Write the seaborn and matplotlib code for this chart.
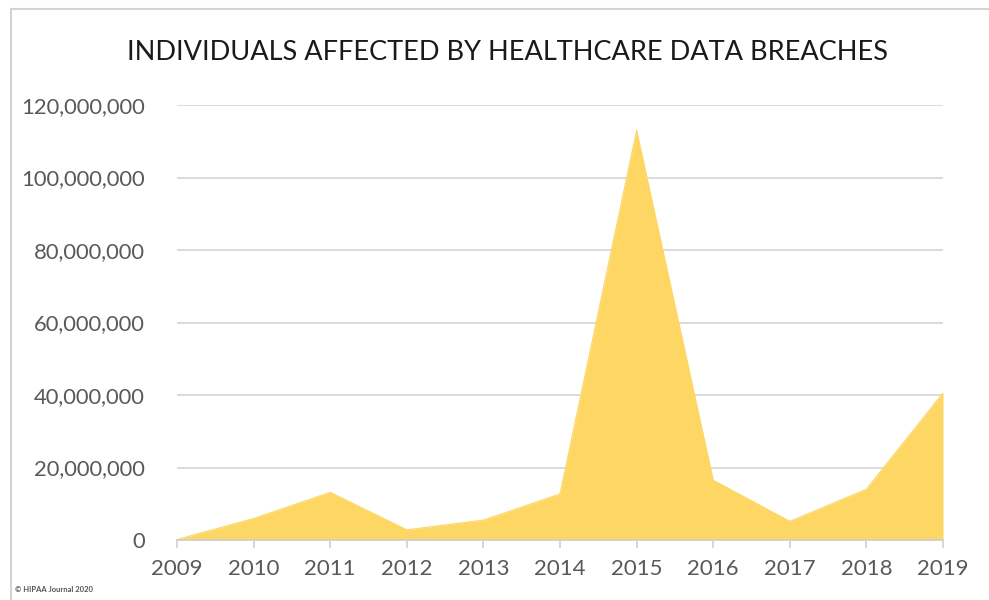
import matplotlib
matplotlib.use("Agg")
import matplotlib.pyplot as plt
import matplotlib.ticker as mticker
from matplotlib.patches import Rectangle
import seaborn as sns
import pandas as pd

years = [2009, 2010, 2011, 2012, 2013, 2014, 2015, 2016, 2017, 2018, 2019]
individuals = [134773, 5932276, 13150298, 2808042, 5500000, 12700000,
               113000000, 16500000, 5138179, 14000000, 40600000]
y_ticks = [0, 20000000, 40000000, 60000000, 80000000, 100000000, 120000000]
title = "INDIVIDUALS AFFECTED BY HEALTHCARE DATA BREACHES"
credit = "© HIPAA Journal 2020"

df = pd.DataFrame({"year": years, "individuals": individuals})

sns.set_theme(style="white")
plt.rcParams["font.family"] = ["Lato", "DejaVu Sans"]

fig = plt.figure(figsize=(9.89, 6.0), dpi=100)
fig.patch.set_facecolor("white")
ax = fig.add_axes([177 / 989, 0.1, (943 - 177) / 989, 0.725])

fill_color = "#FDD663"
sns.lineplot(data=df, x="year", y="individuals", ax=ax, color=fill_color,
             linewidth=0.8)
ax.fill_between(df["year"], df["individuals"], 0, color=fill_color,
                linewidth=0, zorder=2)

ax.set_xlim(years[0], years[-1])
ax.set_ylim(0, y_ticks[-1])
ax.set_xticks(years)
ax.set_yticks(y_ticks)
ax.yaxis.set_major_formatter(mticker.FuncFormatter(lambda v, p: f"{int(v):,}"))
ax.set_xlabel("")
ax.set_ylabel("")

ax.grid(axis="y", color="#d9d9d9", linewidth=1.3, zorder=0)
ax.set_axisbelow(True)
for side in ["top", "right", "left"]:
    ax.spines[side].set_visible(False)
ax.spines["bottom"].set_color("#d0d0d0")
ax.spines["bottom"].set_linewidth(1.3)
ax.spines["bottom"].set_zorder(3)

ax.tick_params(axis="x", which="both", bottom=True, length=6, width=1.2,
               color="#d0d0d0", direction="out", pad=8,
               labelsize=16, labelcolor="#595959")
ax.tick_params(axis="y", left=False, pad=17, labelsize=15.8,
               labelcolor="#595959")

fig.text(508 / 989, 1 - 53 / 600, title, ha="center", va="center",
         fontsize=19.5, color="#1a1a1a")
fig.text(15 / 989, 1 - 590 / 600, credit, ha="left", va="center",
         fontsize=5.5, color="#555555", fontweight="bold")

# outer chart frame (left and top edges)
frame = Rectangle((11 / 989, -0.05), 1.2, 1 - 9 / 600 + 0.05,
                  transform=fig.transFigure, fill=False,
                  edgecolor="#d4d4d4", linewidth=1.5)
fig.add_artist(frame)

fig.savefig("out.png", dpi=100, facecolor="white")
